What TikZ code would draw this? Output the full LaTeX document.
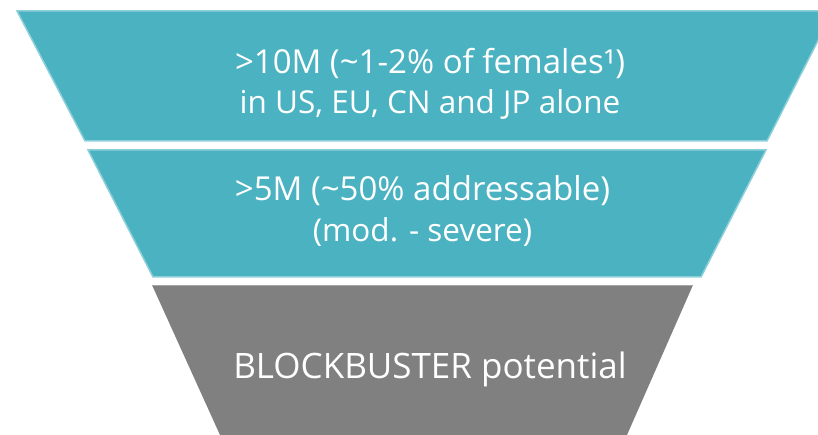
\documentclass[tikz,border=0pt]{standalone}
\usepackage{fontspec}
\setmainfont{Open Sans}
\usepackage{tikz}

\definecolor{funnelteal}{RGB}{75,178,194}
\definecolor{funneledge}{RGB}{140,207,216}
\definecolor{funnelgray}{RGB}{128,128,128}
\definecolor{grayedge}{RGB}{165,165,165}

\begin{document}
\begin{tikzpicture}[x=1pt, y=-1pt,
	band/.style={fill=funnelteal, draw=funneledge, line width=1.5pt, line join=miter},
	baseband/.style={fill=funnelgray},
	label/.style={text=white, anchor=base, inner sep=0pt, font=\fontsize{33}{40}\selectfont},
	sublabel/.style={label, font=\fontsize{31.5}{38}\selectfont}]
	\useasboundingbox (0,0) rectangle (818,435);
	% the three layers of the funnel
	\draw[band] (17,11) -- (833,11) -- (767,141) -- (85,141) -- cycle;
	\draw[band] (88,150) -- (766,150) -- (701,277) -- (153,277) -- cycle;
	\fill[baseband] (152,285) -- (693,285) -- (627,435) -- (220,435) -- cycle;
	\draw[grayedge, line width=1pt] (152,285.5) -- (693,285.5);
	% texts
	\node[label] (top1) at (430,74) {>10M (\textasciitilde1-2\% of females¹)};
	\node[sublabel] (top2) at (430,114) {in US, EU, CN and JP alone};
	\node[label] (mid1) at (422.5,201) {>5M (\textasciitilde50\% addressable)};
	\node[sublabel] (mid2) at (422.5,242) {(mod. - severe)};
	\node[label, font=\fontsize{35}{42}\selectfont] (base) at (430,378) {BLOCKBUSTER potential};
\end{tikzpicture}
\end{document}
